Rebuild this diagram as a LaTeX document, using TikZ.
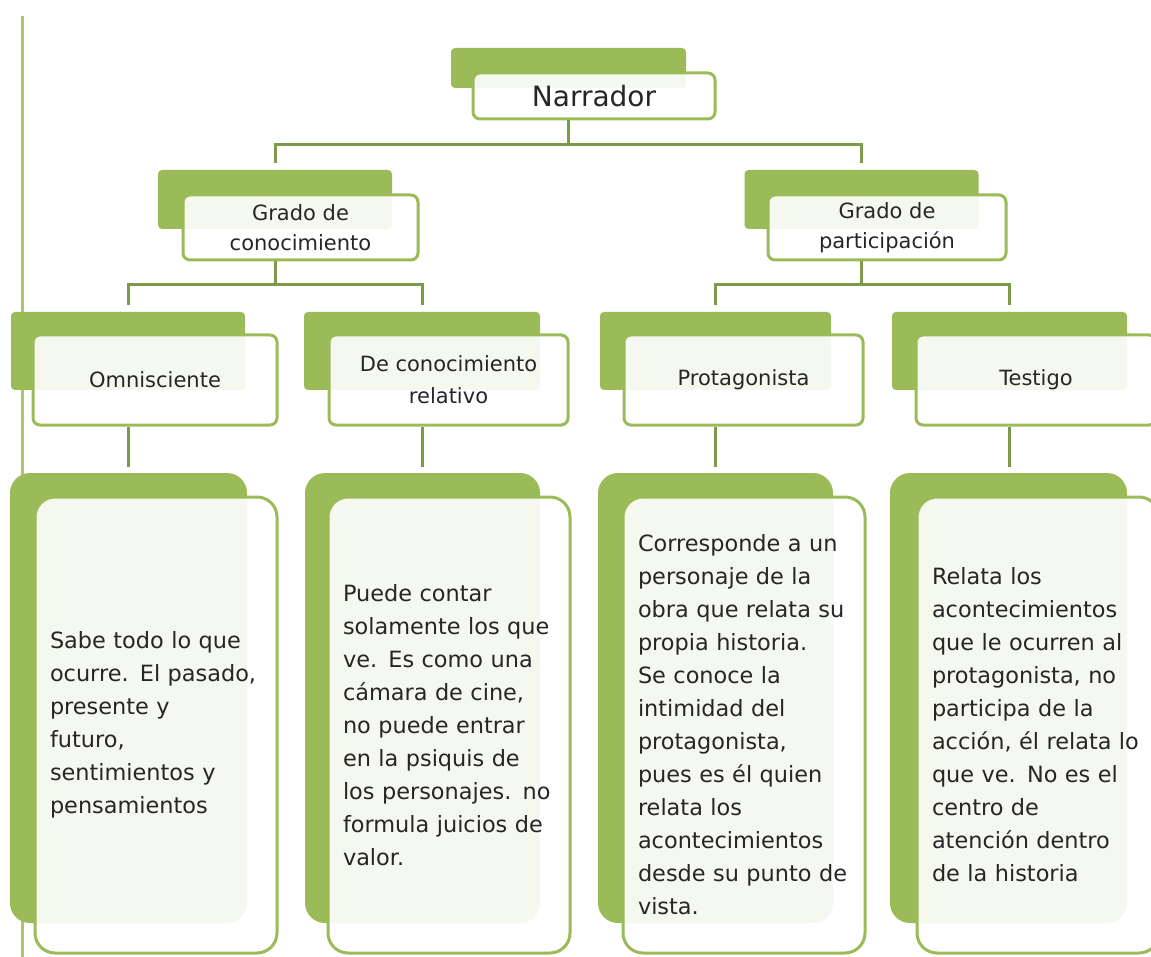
\documentclass[tikz,border=0pt]{standalone}
\usepackage{fontspec}
\setmainfont{DejaVu Sans}
\definecolor{leafgreen}{HTML}{9BBB59}
\definecolor{stemgreen}{HTML}{7C9A4A}
\definecolor{inkgray}{HTML}{262626}
\tikzset{
    backbox/.style={fill=leafgreen, rounded corners=4pt, inner sep=0pt},
    frontbox/.style={draw=leafgreen, line width=3pt, fill=white, fill opacity=0.9,
        text opacity=1, text=inkgray, rounded corners=7pt, inner sep=0pt, align=center},
    notebox/.style={frontbox, rounded corners=20pt, align=left, text width=212pt,
        minimum width=242pt, minimum height=456pt,
        font=\fontsize{22.4pt}{33pt}\selectfont},
    link/.style={draw=stemgreen, line width=3pt},
}
\begin{document}
\begin{tikzpicture}[x=1pt, y=-1pt]
    \useasboundingbox (0,0) rectangle (1151,957);
    \clip (0,0) rectangle (1151,957);
    % margin rule
    \draw[leafgreen!85, line width=3pt] (22,16) -- (22,957);

    % top
    \node[backbox, minimum width=235pt, minimum height=40pt] (narr-b) at (568.5,68) {};
    \node[frontbox, minimum width=242pt, minimum height=46pt,
        font=\fontsize{28pt}{32pt}\selectfont] (narr) at (594,96) {Narrador};

    % second level
    \node[backbox, minimum width=234pt, minimum height=59pt] (conoc-b) at (275,199.5) {};
    \node[frontbox, minimum width=235pt, minimum height=65pt,
        font=\fontsize{21pt}{30pt}\selectfont] (conoc) at (300.5,227.5) {Grado de\\conocimiento};
    \node[backbox, minimum width=234pt, minimum height=59pt] (partic-b) at (861.5,199.5) {};
    \node[frontbox, minimum width=238pt, minimum height=65pt,
        font=\fontsize{21pt}{30pt}\selectfont] (partic) at (887,227.5) {Grado de\\participación};

    % third level
    \node[backbox, minimum width=234pt, minimum height=78pt] (omni-b) at (128,351) {};
    \node[frontbox, minimum width=244pt, minimum height=90pt,
        font=\fontsize{21pt}{32pt}\selectfont] (omni) at (155,380) {Omnisciente};
    \node[backbox, minimum width=236pt, minimum height=78pt] (rel-b) at (422,351) {};
    \node[frontbox, minimum width=239pt, minimum height=90pt,
        font=\fontsize{21pt}{32pt}\selectfont] (rel) at (448.5,380) {De conocimiento\\relativo};
    \node[backbox, minimum width=231pt, minimum height=78pt] (prot-b) at (715.5,351) {};
    \node[frontbox, minimum width=239pt, minimum height=90pt,
        font=\fontsize{21pt}{32pt}\selectfont] (prot) at (743.5,380) {Protagonista};
    \node[backbox, minimum width=235pt, minimum height=78pt] (test-b) at (1009.5,351) {};
    \node[frontbox, minimum width=240pt, minimum height=90pt,
        font=\fontsize{21pt}{32pt}\selectfont] (test) at (1036,380) {Testigo};

    % notes
    \node[backbox, rounded corners=20pt, minimum width=237pt, minimum height=450pt] (omni-note-b) at (128.5,698) {};
    \node[notebox] (omni-note) at (156,725) {Sabe todo lo que\\ocurre. El pasado,\\presente y\\futuro,\\sentimientos y\\pensamientos};
    \node[backbox, rounded corners=20pt, minimum width=235pt, minimum height=450pt] (rel-note-b) at (422.5,698) {};
    \node[notebox] (rel-note) at (449,725) {Puede contar\\solamente  los que\\ve. Es como una\\cámara de cine,\\no puede entrar\\en la psiquis de\\los personajes. no\\formula juicios de\\valor.};
    \node[backbox, rounded corners=20pt, minimum width=235pt, minimum height=450pt] (prot-note-b) at (715.5,698) {};
    \node[notebox] (prot-note) at (744,725) {Corresponde a un\\personaje de la\\obra que relata su\\propia historia.\\Se conoce la\\intimidad del\\protagonista,\\pues es él quien\\relata los\\acontecimientos\\desde su punto de\\vista.};
    \node[backbox, rounded corners=20pt, minimum width=237pt, minimum height=450pt] (test-note-b) at (1008.5,698) {};
    \node[notebox] (test-note) at (1038,725) {Relata los\\acontecimientos\\que le ocurren al\\protagonista, no\\participa de la\\acción, él relata lo\\que ve. No es el\\centro de\\atención dentro\\de la historia};

    % connectors
    \draw[link] (narr-b.center |- narr.south) -- ++(0,24) coordinate (narr-j);
    \draw[link, shorten >=7pt] (narr-j) -| (conoc-b.north);
    \draw[link, shorten >=7pt] (narr-j) -| (partic-b.north);
    \draw[link] (conoc-b.center |- conoc.south) -- ++(0,23) coordinate (conoc-j);
    \draw[link, shorten >=7pt] (conoc-j) -| (omni-b.north);
    \draw[link, shorten >=7pt] (conoc-j) -| (rel-b.north);
    \draw[link] (partic-b.center |- partic.south) -- ++(0,23) coordinate (partic-j);
    \draw[link, shorten >=7pt] (partic-j) -| (prot-b.north);
    \draw[link, shorten >=7pt] (partic-j) -| (test-b.north);
    \foreach \k in {omni, rel, prot, test}
        \draw[link, shorten >=6pt] (\k-b.center |- \k.south) -- (\k-b.center |- \k-note-b.north);
\end{tikzpicture}
\end{document}
